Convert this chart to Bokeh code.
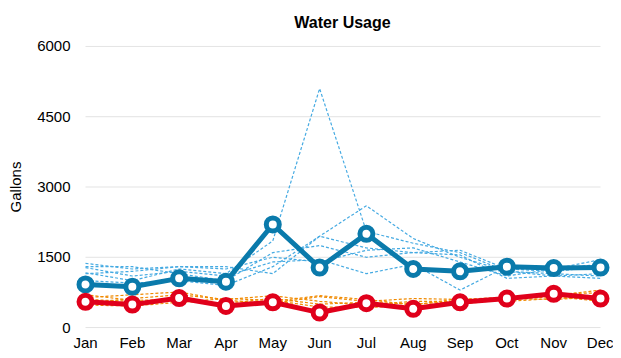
from bokeh.plotting import figure
from bokeh.models import FixedTicker, Range1d
from bokeh.embed import file_html
from bokeh.resources import INLINE

months = ["Jan", "Feb", "Mar", "Apr", "May", "Jun", "Jul", "Aug", "Sep", "Oct", "Nov", "Dec"]
y_ticks = [0, 1500, 3000, 4500, 6000]

# Highlighted series
blue_main = [920, 870, 1050, 980, 2200, 1280, 2000, 1250, 1200, 1300, 1270, 1280]
red_main = [550, 490, 630, 460, 540, 320, 520, 400, 540, 620, 720, 620]

# Background (dotted) series
blue_1 = [1170, 1000, 1250, 1150, 1850, 5100, 2050, 1800, 1600, 1200, 1150, 1100]
blue_2 = [1000, 950, 1000, 900, 1300, 1950, 2600, 1900, 1500, 1200, 1100, 1050]
blue_3 = [1370, 1250, 1300, 1300, 1150, 1950, 1700, 1600, 1650, 1250, 1200, 1300]
blue_4 = [1280, 1100, 1200, 1100, 1400, 1450, 1150, 1350, 800, 1300, 1250, 1450]
blue_5 = [1150, 1200, 1300, 1250, 1500, 1400, 1650, 1700, 1400, 1100, 1250, 1350]
blue_6 = [1300, 1300, 1150, 1000, 1600, 1750, 1500, 1600, 1550, 1050, 1100, 1150]

orange_1 = [640, 700, 760, 580, 520, 660, 560, 620, 600, 650, 680, 800]
orange_2 = [520, 620, 700, 600, 680, 560, 480, 560, 560, 640, 720, 740]
orange_3 = [700, 580, 600, 500, 560, 680, 600, 480, 620, 560, 620, 660]
orange_4 = [480, 460, 540, 620, 580, 440, 430, 460, 500, 600, 660, 560]
orange_5 = [600, 560, 560, 520, 620, 500, 540, 500, 560, 620, 600, 650]

x = list(range(len(months)))

FONT = "Liberation Sans"

p = figure(frame_width=540, frame_height=283, output_backend="svg", toolbar_location=None,
           x_range=Range1d(-0.278, 11.256), y_range=Range1d(-20, 6020),
           min_border_left=72, min_border_right=1, min_border_top=45, min_border_bottom=22)
p.outline_line_color = None

p.title.text = "Water Usage"
p.title.align = "center"
p.title.vertical_align = "top"
p.title.text_font = FONT
p.title.text_font_size = "16px"
p.title.text_font_style = "bold"
p.title.text_color = "#000000"
p.title.standoff = 25

# horizontal gridlines spanning first to last month
p.segment(x0=[x[0]] * len(y_ticks), x1=[x[-1]] * len(y_ticks), y0=y_ticks, y1=y_ticks,
          line_color="#e3e3e3", line_width=1)

for s in [orange_1, orange_2, orange_3, orange_4, orange_5]:
    p.line(x, s, line_color="#f08a00", line_width=1.2, line_dash="3 2")
for s in [blue_1, blue_2, blue_3, blue_4, blue_5, blue_6]:
    p.line(x, s, line_color="#45aae2", line_width=1.2, line_dash="3 2")

p.line(x, blue_main, line_color="#0a7aab", line_width=5)
p.scatter(x, blue_main, size=13, fill_color="white", line_color="#0a7aab", line_width=5)
p.line(x, red_main, line_color="#e0001b", line_width=5)
p.scatter(x, red_main, size=13, fill_color="white", line_color="#e0001b", line_width=5)

p.xgrid.grid_line_color = None
p.ygrid.grid_line_color = None

p.yaxis.ticker = FixedTicker(ticks=y_ticks)
p.xaxis.ticker = FixedTicker(ticks=x)
p.xaxis.major_label_overrides = {i: m for i, m in enumerate(months)}

for ax in [p.xaxis[0], p.yaxis[0]]:
    ax.axis_line_color = None
    ax.major_tick_line_color = None
    ax.minor_tick_line_color = None
    ax.major_tick_out = 0
    ax.major_tick_in = 0
    ax.minor_tick_out = 0
    ax.minor_tick_in = 0
    ax.major_label_text_font = FONT
    ax.major_label_text_font_size = "15px"
    ax.major_label_text_color = "#000000"
p.yaxis.major_label_standoff = 2
p.xaxis.major_label_standoff = 5

p.yaxis.axis_label = "Gallons"
p.yaxis.axis_label_text_font = FONT
p.yaxis.axis_label_text_font_size = "15px"
p.yaxis.axis_label_text_font_style = "normal"
p.yaxis.axis_label_text_color = "#000000"
p.yaxis.axis_label_standoff = 10

open("out.html", "w").write(file_html(p, INLINE))
